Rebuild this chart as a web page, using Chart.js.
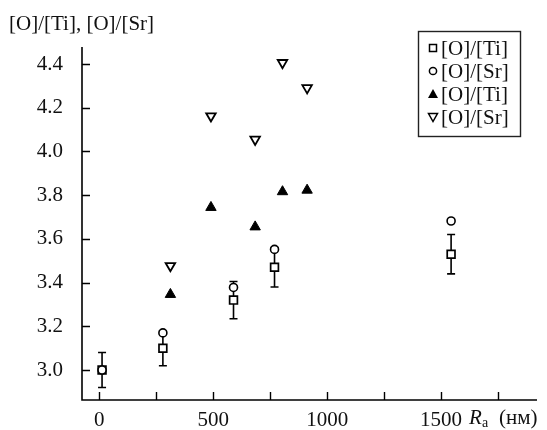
<!DOCTYPE html>
<html>
<head>
<meta charset="utf-8">
<script src="https://cdn.jsdelivr.net/npm/chart.js@4"></script>
<style>
  body { margin: 0; background: #fff; }
  canvas { display: block; }
</style>
</head>
<body>
<canvas id="chart" width="547" height="430"></canvas>
<script>
// values
const rSquares = [12, 279, 589, 769, 1544];
const oTiSquares = [3.0, 3.10, 3.32, 3.47, 3.53];
const oTiErr = [0.08, 0.08, 0.085, 0.09, 0.09];
const oSrCircles = [3.0, 3.17, 3.378, 3.552, 3.682];

const rTriangles = [312, 490, 684, 804, 912];
const oTiFilled = [3.346, 3.744, 3.655, 3.816, 3.823];
const oSrOpen = [3.477, 4.162, 4.055, 4.406, 4.291];

const xTicks = [0, 250, 500, 750, 1000, 1250, 1500, 1750];
const xLabels = [0, 500, 1000, 1500];
const yTicks = [3.0, 3.2, 3.4, 3.6, 3.8, 4.0, 4.2, 4.4];

const legendNames = ["[O]/[Ti]", "[O]/[Sr]", "[O]/[Ti]", "[O]/[Sr]"];

const FONT = "'Liberation Serif', 'DejaVu Serif', serif";

const pts = (xs, ys) => xs.map((x, i) => ({ x, y: ys[i] }));

// error bars under the squares
const errorBars = {
  id: "errorBars",
  beforeDatasetsDraw(chart) {
    const { ctx, scales: { x, y } } = chart;
    ctx.save();
    ctx.strokeStyle = "#000";
    ctx.lineWidth = 1.6;
    rSquares.forEach((r, i) => {
      const px = x.getPixelForValue(r);
      const top = y.getPixelForValue(oTiSquares[i] + oTiErr[i]);
      const bot = y.getPixelForValue(oTiSquares[i] - oTiErr[i]);
      ctx.beginPath();
      ctx.moveTo(px, top); ctx.lineTo(px, bot);
      ctx.moveTo(px - 4, top); ctx.lineTo(px + 4, top);
      ctx.moveTo(px - 4, bot); ctx.lineTo(px + 4, bot);
      ctx.stroke();
    });
    ctx.restore();
  }
};

// axes with inward ticks, title, unit, legend box
const decorations = {
  id: "decorations",
  afterDraw(chart) {
    const { ctx, chartArea: a, scales: { x, y } } = chart;
    ctx.save();
    ctx.strokeStyle = "#000";
    ctx.lineWidth = 1.6;
    ctx.beginPath();
    ctx.moveTo(a.left, a.top);
    ctx.lineTo(a.left, a.bottom);
    ctx.lineTo(a.right, a.bottom);
    ctx.stroke();

    ctx.lineWidth = 1.4;
    ctx.beginPath();
    yTicks.forEach(v => {
      const py = Math.round(y.getPixelForValue(v)) + 0.5;
      ctx.moveTo(a.left, py); ctx.lineTo(a.left + 8, py);
    });
    xTicks.forEach(v => {
      const px = Math.round(x.getPixelForValue(v)) + 0.5;
      ctx.moveTo(px, a.bottom); ctx.lineTo(px, a.bottom - 8);
    });
    ctx.stroke();

    ctx.fillStyle = "#111";
    ctx.textBaseline = "middle";
    ctx.textAlign = "left";
    ctx.font = "21px " + FONT;
    ctx.fillText("[O]/[Ti], [O]/[Sr]", 9, 24);

    // R_a (нм)
    ctx.font = "italic 21px " + FONT;
    ctx.fillText("R", 469, 418);
    ctx.font = "14px " + FONT;
    ctx.fillText("a", 482, 423);
    ctx.font = "21px " + FONT;
    ctx.fillText("(нм)", 499, 418);

    // legend
    const bx = 418, by = 31, bw = 102, bh = 105;
    ctx.fillStyle = "#fff";
    ctx.fillRect(bx, by, bw, bh);
    ctx.strokeStyle = "#222";
    ctx.lineWidth = 1.4;
    ctx.strokeRect(bx + 0.5, by + 0.5, bw, bh);

    const rowY = [48, 71, 94, 117];
    const mx = 433;
    ctx.lineWidth = 1.5;
    ctx.strokeStyle = "#000";
    ctx.fillStyle = "#000";
    // square
    ctx.strokeRect(mx - 3.5, rowY[0] - 3.5, 7, 7);
    // circle
    ctx.beginPath();
    ctx.arc(mx, rowY[1], 3.6, 0, Math.PI * 2);
    ctx.stroke();
    // filled triangle
    ctx.beginPath();
    ctx.moveTo(mx, rowY[2] - 5);
    ctx.lineTo(mx + 5, rowY[2] + 4);
    ctx.lineTo(mx - 5, rowY[2] + 4);
    ctx.closePath();
    ctx.fill();
    // open inverted triangle
    ctx.beginPath();
    ctx.moveTo(mx - 4.5, rowY[3] - 3.5);
    ctx.lineTo(mx + 4.5, rowY[3] - 3.5);
    ctx.lineTo(mx, rowY[3] + 4.5);
    ctx.closePath();
    ctx.stroke();

    ctx.fillStyle = "#111";
    ctx.font = "21px " + FONT;
    legendNames.forEach((t, i) => ctx.fillText(t, 441, rowY[i] + 1));
    ctx.restore();
  }
};

const ctx = document.getElementById("chart").getContext("2d");

new Chart(ctx, {
  type: "scatter",
  data: {
    datasets: [
      {
        label: legendNames[0],
        data: pts(rSquares, oTiSquares),
        pointStyle: "rect",
        pointRadius: 5.5,
        borderColor: "#000",
        backgroundColor: "#fff",
        borderWidth: 1.7,
        order: 2
      },
      {
        label: legendNames[1],
        data: pts(rSquares, oSrCircles),
        pointStyle: "circle",
        pointRadius: 4,
        borderColor: "#000",
        backgroundColor: "#fff",
        borderWidth: 1.6,
        order: 1
      },
      {
        label: legendNames[2],
        data: pts(rTriangles, oTiFilled),
        pointStyle: "triangle",
        pointRadius: 6,
        borderColor: "#000",
        backgroundColor: "#000",
        borderWidth: 1,
        order: 3
      },
      {
        label: legendNames[3],
        data: pts(rTriangles, oSrOpen),
        pointStyle: "triangle",
        pointRotation: 180,
        pointRadius: 5.5,
        borderColor: "#000",
        backgroundColor: "#fff",
        borderWidth: 1.8,
        order: 4
      }
    ]
  },
  options: {
    responsive: false,
    animation: false,
    layout: { padding: { top: 47, right: 10, left: 0, bottom: 0 } },
    plugins: {
      legend: { display: false },
      tooltip: { enabled: false }
    },
    scales: {
      x: {
        type: "linear",
        min: -76,
        max: 1921,
        grid: { display: false },
        border: { display: false },
        afterBuildTicks: s => { s.ticks = xTicks.map(v => ({ value: v })); },
        afterFit: s => { s.height = 30; },
        ticks: {
          autoSkip: false,
          maxRotation: 0,
          padding: 0,
          color: "#111",
          font: { family: FONT, size: 21 },
          callback: v => (xLabels.includes(v) ? String(v) : "")
        }
      },
      y: {
        min: 2.863,
        max: 4.478,
        grid: { display: false },
        border: { display: false },
        afterBuildTicks: s => { s.ticks = yTicks.map(v => ({ value: v })); },
        afterFit: s => { s.width = 82; },
        ticks: {
          padding: 11,
          color: "#111",
          font: { family: FONT, size: 21 },
          callback: v => v.toFixed(1)
        }
      }
    }
  },
  plugins: [errorBars, decorations]
});
</script>
</body>
</html>
